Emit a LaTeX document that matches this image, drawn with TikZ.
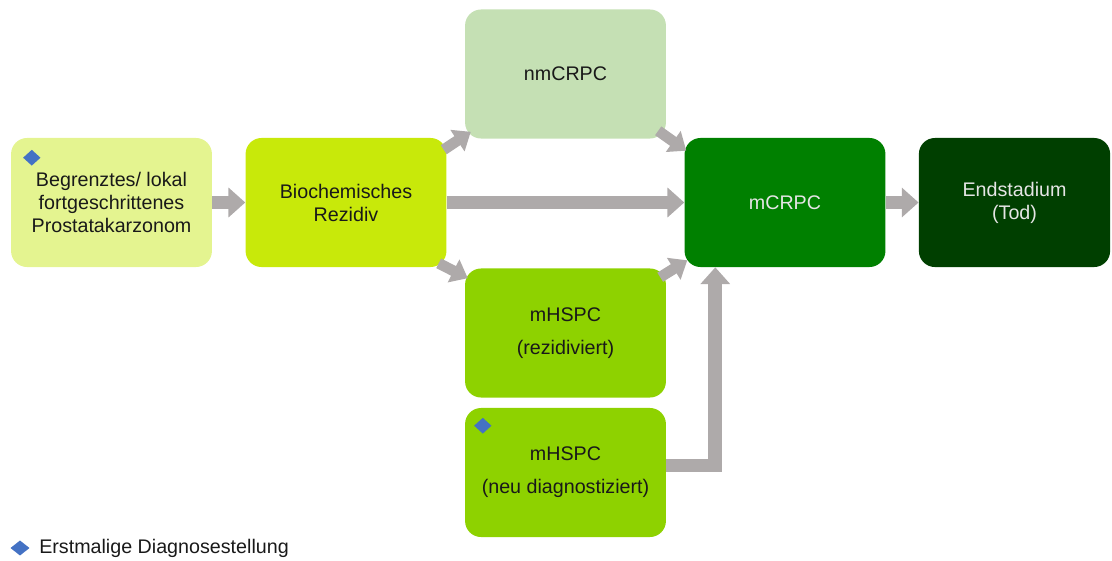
\documentclass[tikz,border=0pt]{standalone}
\usepackage{fontspec}
\setmainfont{Liberation Sans}
\usetikzlibrary{calc,arrows.meta,shapes.geometric}

\definecolor{lokalgreen}{HTML}{E4F490}
\definecolor{biogreen}{HTML}{C8E90A}
\definecolor{nmgreen}{HTML}{C5E0B4}
\definecolor{hspcgreen}{HTML}{8ED200}
\definecolor{mgreen}{HTML}{008000}
\definecolor{endgreen}{HTML}{003F00}
\definecolor{arrowgray}{HTML}{AEAAAA}
\definecolor{markblue}{HTML}{4472C4}

\begin{document}
\begin{tikzpicture}[x=0.025cm,y=-0.025cm,
  stage/.style={rounded corners=0.4cm,inner sep=0pt,minimum width=5.02cm,
    minimum height=3.225cm,align=center,text=black!90,
    font=\fontsize{14}{16.3}\selectfont},
  flow/.style={draw=arrowgray,line width=0.34cm,
    -{Triangle[width=0.72cm,length=0.42cm]}},
  flowsmall/.style={draw=arrowgray,line width=0.27cm,
    -{Triangle[width=0.62cm,length=0.4cm]}},
  marker/.style={diamond,fill=markblue,inner sep=0pt,
    minimum width=0.44cm,minimum height=0.4cm}]
  \useasboundingbox (0,0) rectangle (1112,560);

  % stages
  \node[stage,fill=lokalgreen] (lokal) at (111.5,202.5)
    {Begrenztes/ lokal\\fortgeschrittenes\\Prostatakarzonom};
  \node[stage,fill=biogreen] (bio) at (346,202.5) {Biochemisches\\Rezidiv};
  \node[stage,fill=nmgreen] (nmcrpc) at (565.5,74) {nmCRPC};
  \node[stage,fill=hspcgreen] (rez) at (565.5,333) {mHSPC\\[7pt](rezidiviert)};
  \node[stage,fill=hspcgreen] (neu) at (565.5,472.5)
    {mHSPC\\[7pt](neu diagnostiziert)};
  \node[stage,fill=mgreen,text=white!90!black] (mcrpc) at (785,202.5) {mCRPC};
  \node[stage,fill=endgreen,text=white!90!black,minimum width=4.78cm] (end)
    at (1014.5,202.5) {Endstadium\\(Tod)};

  % markers for first diagnosis
  \node[marker] (markA) at ($(lokal.north west)+(21,20)$) {};
  \node[marker] (markB) at ($(neu.north west)+(18,18)$) {};

  % transitions
  \draw[flow] (lokal.east) -- (bio.west);
  \draw[flow] (bio.east) -- (mcrpc.west);
  \draw[flow] (mcrpc.east) -- (end.west);
  \draw[flowsmall] ($(bio.north east)+(-3,12)$) -- ($(nmcrpc.south west)+(6,-7)$);
  \draw[flowsmall] ($(bio.south east)+(-8,-4)$) -- ($(rez.north west)+(3,10)$);
  \draw[flowsmall] ($(nmcrpc.south east)+(-8,-8)$) -- ($(mcrpc.north west)+(2,13)$);
  \draw[flowsmall] ($(rez.north east)+(-6,9)$) -- ($(mcrpc.south west)+(3,-7)$);
  \draw[flow] ($(neu.east)+(0,-7)$) -| ($(mcrpc.south west)+(31,0)$);

  % legend
  \node[marker,minimum width=0.48cm,minimum height=0.38cm] (legmark) at (20,548) {};
  \node[right,inner sep=0pt,font=\fontsize{14}{16}\selectfont,text=black!90]
    (legend) at (39,548) {Erstmalige Diagnosestellung};
\end{tikzpicture}
\end{document}
